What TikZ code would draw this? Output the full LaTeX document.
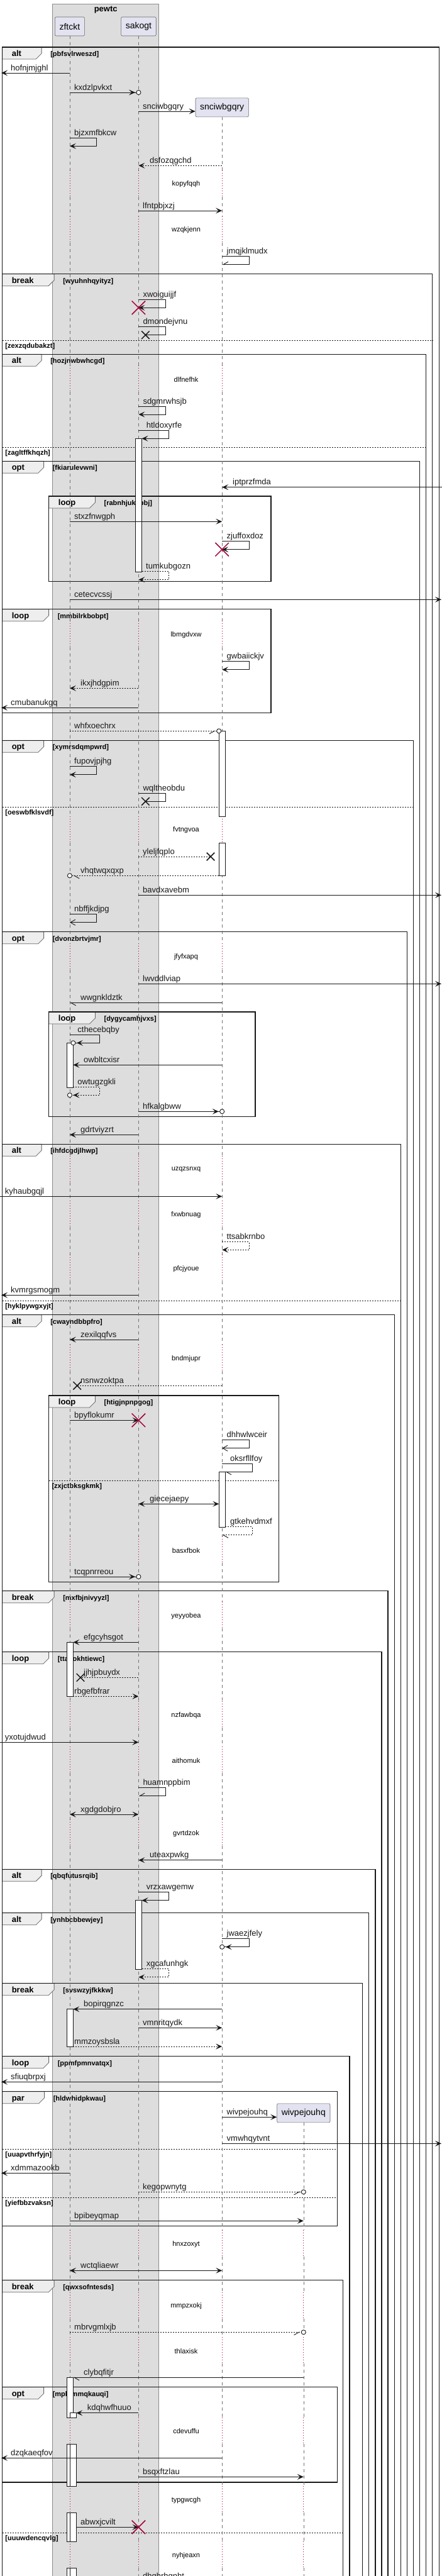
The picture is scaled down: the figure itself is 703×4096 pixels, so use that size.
\documentclass[tikz,border=0pt]{standalone}
\usepackage{fontspec}
\setmainfont{Liberation Sans}
\usetikzlibrary{arrows.meta,shapes.misc}
\definecolor{partfill}{HTML}{E2E2F0}
\definecolor{grpfill}{HTML}{DDDDDD}
\definecolor{tabfill}{HTML}{EEEEEE}
\definecolor{delayred}{HTML}{A80036}
\definecolor{linecol}{HTML}{181818}
\newcounter{nd}
\tikzset{
    partbox/.style = {draw=black!60, fill=partfill, line width=0.6pt, rounded corners=2pt, minimum height=30pt, inner xsep=7.2pt, font=\fontsize{14}{16}\selectfont},
    grpbox/.style = {draw=black!45, fill=grpfill, line width=0.8pt},
    grptitle/.style = {font=\fontsize{13}{15}\selectfont\bfseries, inner sep=0pt},
    lifel/.style = {draw=black!55, line width=0.6pt, dash pattern=on 5pt off 5pt},
    delayl/.style = {draw=delayred, line width=0.8pt, dash pattern=on 1pt off 3pt},
    frameline/.style = {draw=linecol, line width=1.5pt},
    frametab/.style = {draw=black!60, fill=tabfill, line width=0.8pt},
    kwtext/.style = {font=\fontsize{13}{15}\selectfont\bfseries, inner sep=0pt},
    guardtext/.style = {font=\fontsize{11}{13}\selectfont\bfseries, inner sep=0pt},
    elseline/.style = {draw=linecol, line width=0.8pt, dash pattern=on 2pt off 2pt},
    dlytext/.style = {font=\fontsize{11}{13}\selectfont, inner sep=0pt},
    lbl/.style = {font=\fontsize{13}{15}\selectfont, inner sep=0pt, text=linecol},
    actbox/.style = {draw=linecol, fill=white, line width=0.8pt},
    msg/.style = {draw=linecol, line width=0.9pt, -{Stealth[length=10pt,width=9pt,inset=4.5pt]}},
    dsh/.style = {dash pattern=on 2pt off 2pt},
    opentip/.style = {-{Straight Barb[length=8pt,width=9pt]}},
    harp/.style = {-{Straight Barb[harpoon,length=8pt,width=9pt]}},
    harps/.style = {-{Straight Barb[harpoon,swap,length=8pt,width=9pt]}},
    circtip/.style = {-{Stealth[length=10pt,width=9pt,inset=4.5pt,sep=1.5pt] Circle[length=8pt,width=8pt,fill=white]}, shorten >=-4pt},
    harpc/.style = {-{Straight Barb[harpoon,length=8pt,width=9pt,sep=1.5pt] Circle[length=8pt,width=8pt,fill=white]}, shorten >=-4pt},
    harpsc/.style = {-{Straight Barb[harpoon,swap,length=8pt,width=9pt,sep=1.5pt] Circle[length=8pt,width=8pt,fill=white]}, shorten >=-4pt},
    twoway/.style = {{Stealth[length=10pt,width=9pt,inset=4.5pt]}-{Stealth[length=10pt,width=9pt,inset=4.5pt]}},
    lost/.style = {-},
    killx/.style = {cross out, draw=delayred, line width=1.5pt, minimum size=20pt, inner sep=0pt},
    lostx/.style = {cross out, draw=linecol, line width=1.5pt, minimum size=11pt, inner sep=0pt},
}
% message: [style]{from}{to}{y}{label x}{label}
\newcommand{\msg}[6][]{%
    \draw[msg,#1] (#2 |- 0,#4) -- (#3 |- 0,#4);
    \stepcounter{nd}%
    \node[lbl, anchor=base west] (m-\number\value{nd}) at (#5,#4-4) {#6};}
% self message: [style]{from}{to}{top}{right x}{label x}{label}
\newcommand{\selfmsg}[7][]{%
    \draw[msg,#1] (#2 |- 0,#4) -- (#5,#4) -- (#5,#4+13) -- (#3 |- 0,#4+13);
    \stepcounter{nd}%
    \node[lbl, anchor=base west] (m-\number\value{nd}) at (#6,#4-4) {#7};}
\newcommand{\delaytext}[2]{%
    \stepcounter{nd}%
    \node[dlytext] (d-\number\value{nd}) at (296,#1) {#2};}
% frame: {left}{top}{right}{bottom}{tab width}{keyword}{guard}
\newcommand{\sdframe}[7]{%
    \draw[frametab] (#1,#2) -- (#1+#5,#2) -- (#1+#5,#2+10) -- (#1+#5-9,#2+19) -- (#1,#2+19) -- cycle;
    \draw[frameline] (#1,#2) rectangle (#3,#4);
    \stepcounter{nd}%
    \node[kwtext, anchor=base west] (kw-\number\value{nd}) at (#1+15,#2+14.5) {#6};
    \node[guardtext, anchor=base west] (gd-\number\value{nd}) at (#1+#5+14,#2+14.5) {#7};}
\newcommand{\sdelse}[4]{%
    \draw[elseline] (#1,#3) -- (#2,#3);
    \stepcounter{nd}%
    \node[guardtext, anchor=base west] (el-\number\value{nd}) at (#1+4.6,#3+12) {#4};}
\newcommand{\lifeline}[3]{%
    \foreach \dlyc [remember=\dlyc as \dlyp (initially #2)] in #3 {
        \draw[lifel] (#1 |- 0,\dlyp+20) -- (#1 |- 0,\dlyc-22);
        \draw[delayl] (#1 |- 0,\dlyc-22) -- (#1 |- 0,\dlyc+20);
    }}
\newcommand{\delaysall}{293,366,603.3,1009.3,1320,1521.7,1859.7,1931.3,2017.3,2160.3,2465.3,2569.3,2727.3,2799.3,2915.3,3568.3,3666.7,3738.3,3866,3975.3,4063.3,4200}
\newcommand{\delayswiv}{3568.3,3666.7,3738.3,3866,3975.3,4063.3,4200}

\begin{document}
\begin{tikzpicture}[x=1pt, y=-1pt]
\useasboundingbox (0,0) rectangle (703,4096);
\clip (0,0) rectangle (703,4096);

% box round the first two participants
\draw[grpbox] (83.6,6) rectangle (252.7,4120);
\node[grptitle] (pewtc) at (168.2,15.5) {pewtc};

% frames
\sdframe{3.6}{75}{698.6}{4120}{62.5}{alt}{[pbfsvlrweszd]}
\sdframe{3.6}{435.7}{687.7}{4120}{82.5}{break}{[wyuhnhqyityz]}
\sdelse{3.6}{687.7}{541.3}{[zexzqdubakzt]}
\sdframe{3.6}{563.3}{677.7}{4120}{62.5}{alt}{[hozjnwbwhcgd]}
\sdelse{3.6}{677.7}{711.7}{[zagltffkhqzh]}
\sdframe{3.6}{733.3}{667.3}{4120}{66}{opt}{[fkiarulevwni]}
\sdframe{77.7}{789}{431}{924.3}{73.7}{loop}{[rabnhjukxbbj]}
\sdframe{3.6}{968.7}{431}{1133.3}{74}{loop}{[mmbilrkbobpt]}
\sdframe{3.6}{1177.3}{657.7}{4120}{66}{opt}{[xymrsdqmpwrd]}
\sdelse{3.6}{657.7}{1283.3}{[oeswbfklsvdf]}
\sdframe{3.6}{1481.7}{647.3}{4120}{66}{opt}{[dvonzbrtvjmr]}
\sdframe{77.7}{1609}{406}{1775.3}{73.7}{loop}{[dygycamhjvxs]}
\sdframe{3.6}{1819.3}{637.3}{4120}{62.5}{alt}{[ihfdcgdjlhwp]}
\sdelse{3.6}{637.3}{2068.3}{[hyklpywgxyjt]}
\sdframe{3.6}{2090.7}{627.3}{4120}{62.5}{alt}{[cwayndbbpfro]}
\sdframe{77.7}{2219}{443.6}{2515.3}{73.7}{loop}{[htigjnpnpgog]}
\sdelse{77.7}{443.6}{2354}{[zxjctbksgkmk]}
\sdframe{3.6}{2529.7}{616.8}{4120}{82.5}{break}{[mxfbjnivyyzl]}
\sdframe{3.6}{2626.7}{606.8}{4120}{74}{loop}{[ttauokhtiewc]}
\sdframe{3.6}{2972.3}{596.8}{4120}{62.5}{alt}{[qbqfutusrqib]}
\sdframe{3.6}{3041.7}{586.4}{4120}{62.5}{alt}{[ynhbcbbewjey]}
\sdframe{3.6}{3153.7}{576.4}{4120}{82.5}{break}{[svswzyjfkkkw]}
\sdframe{3.6}{3269.7}{556}{4120}{74}{loop}{[ppmfpmnvatqx]}
\sdframe{3.6}{3325.7}{536.4}{3539.3}{67}{par}{[hldwhidpkwau]}
\sdelse{3.6}{536.4}{3417}{[uuapvthrfyjn]}
\sdelse{3.6}{536.4}{3494.3}{[yiefbbzvaksn]}
\sdframe{3.6}{3625.7}{545.5}{4120}{82.5}{break}{[qwxsofntesds]}
\sdframe{3.6}{3795.7}{536.4}{3946.7}{66}{opt}{[mplgmmqkauqi]}
\sdelse{3.6}{545.5}{4027}{[uuuwdencqvlg]}

% participants
\node[partbox] (zftckt) at (110.9,42) {zftckt};
\node[partbox] (sakogt) at (220.4,42) {sakogt};
\node[partbox] (snciwbgqry) at (353.2,170.8) {snciwbgqry};
\node[partbox] (wivpejouhq) at (482.8,3359.8) {wivpejouhq};

\coordinate (edgeL) at (2,0);
\coordinate (edgeR) at (702,0);
\coordinate (imgL) at (0,0);
\coordinate (imgR) at (703,0);
\coordinate (zftckt-r) at (116.4,0);
\coordinate (zftckt-rr) at (121.4,0);
\coordinate (sakogt-r) at (225.5,0);
\coordinate (snci-l) at (348.2,0);
\coordinate (snci-r) at (358.2,0);

% lifelines, dotted where the delays are
\lifeline{zftckt}{37}{\delaysall}
\lifeline{sakogt}{37}{\delaysall}
\lifeline{snciwbgqry}{166.3}{\delaysall}
\lifeline{wivpejouhq}{3355.3}{\delayswiv}

% activations
\draw[actbox] (215.5,697.3) rectangle (225.5,909.3);
\draw[actbox] (348.2,1162.3) rectangle (358.2,1298);
\draw[actbox] (348.2,1340) rectangle (358.2,1392.3);
\draw[actbox] (105.9,1658) rectangle (116.4,1729.3);
\draw[actbox] (348.2,2340.3) rectangle (358.2,2428.3);
\draw[actbox] (105.9,2611.3) rectangle (116.4,2697.3);
\draw[actbox] (215.5,3021.3) rectangle (225.5,3131);
\draw[actbox] (105.9,3194.7) rectangle (116.4,3254);
\draw[actbox] (105.9,3780.3) rectangle (116.4,3844.3);
\draw[actbox] (105.9,3886) rectangle (116.4,3953.3);
\draw[actbox] (105.9,3995) rectangle (116.4,4041.7);
\draw[actbox] (105.9,4083.3) rectangle (116.4,4120);
\draw[actbox] (111.4,3836.7) rectangle (121.4,3844.3);
\draw[actbox] (111.4,3886) rectangle (121.4,3953.3);
\draw[actbox] (111.4,3995) rectangle (121.4,4041.7);
\draw[actbox] (111.4,4083.3) rectangle (121.4,4120);

% messages
\msg{zftckt}{edgeL}{116}{17}{hofnjmjghl}
\msg[circtip]{zftckt}{sakogt}{147}{118}{kxdzlpvkxt}
\msg{sakogt}{snciwbgqry.west}{177}{227}{snciwbgqry}
\selfmsg{zftckt}{zftckt}{219.3}{153.6}{118}{bjzxmfbkcw}
\msg[dsh]{snciwbgqry}{sakogt}{263.3}{238}{dsfozqgchd}
\delaytext{293}{kopyfqqh}
\msg{sakogt}{snciwbgqry}{335}{227}{lfntpbjxzj}
\delaytext{366}{wzqkjenn}
\selfmsg[harps]{snciwbgqry}{snciwbgqry}{407.7}{396}{360.5}{jmqjklmudx}
\selfmsg{sakogt}{sakogt}{476.3}{263}{227.3}{xwoiguijjf}
\node[killx] (kill-1) at (sakogt |- 0,489.3) {};
\node[lostx] (lost-1) at (231.4,532.7) {};
\selfmsg[lost]{sakogt}{lost-1.center}{519.7}{263}{227.3}{dmondejvnu}
\delaytext{603.3}{dlfnefhk}
\selfmsg{sakogt}{sakogt}{646}{263}{227.3}{sdgmrwhsjb}
\selfmsg{sakogt}{sakogt-r}{684.3}{268}{232.7}{htldoxyrfe}
\msg{imgR}{snciwbgqry}{774.7}{370}{iptprzfmda}
\msg{zftckt}{snciwbgqry}{829.3}{118}{stxzfnwgph}
\selfmsg{snciwbgqry}{snciwbgqry}{860.7}{396}{360.5}{zjuffoxdoz}
\node[killx] (kill-2) at (snciwbgqry |- 0,873.7) {};
\selfmsg[dsh]{sakogt-r}{sakogt}{908.7}{268}{232}{tumkubgozn}
\msg{zftckt}{edgeR}{953.3}{118}{cetecvcssj}
\delaytext{1009.3}{lbmgdvxw}
\selfmsg{snciwbgqry}{snciwbgqry}{1051.7}{396}{360.5}{gwbaiickjv}
\msg[dsh]{sakogt}{zftckt}{1094.3}{128}{ikxjhdgpim}
\msg{sakogt}{edgeL}{1125.3}{17}{cmubanukgq}
\msg[dsh,harpsc]{zftckt}{snci-l}{1162.3}{118}{whfxoechrx}
\selfmsg{zftckt}{zftckt}{1218.7}{153.6}{118}{fupovjpjhg}
\node[lostx] (lost-2) at (231.4,1274.3) {};
\selfmsg[lost]{sakogt}{lost-2.center}{1261.3}{263}{227.3}{wqltheobdu}
\delaytext{1320}{fvtngvoa}
\node[lostx] (lost-3) at (335,1362) {};
\msg[dsh,lost]{sakogt}{lost-3.center}{1362}{227}{yleljfqplo}
\msg[dsh,harpc]{snci-l}{zftckt}{1392.3}{128}{vhqtwqxqxp}
\msg{sakogt}{edgeR}{1423.3}{227}{bavdxavebm}
\selfmsg[opentip]{zftckt}{zftckt}{1453.7}{153.6}{118}{nbffjkdjpg}
\delaytext{1521.7}{jfyfxapq}
\msg{sakogt}{edgeR}{1564.3}{227}{lwvddlviap}
\msg[harp]{snciwbgqry}{zftckt}{1594.3}{128}{wwgnkldztk}
\selfmsg[circtip]{zftckt}{zftckt-r}{1645.3}{158.6}{123.2}{cthecebqby}
\msg{snciwbgqry}{zftckt-r}{1693.3}{133}{owbltcxisr}
\selfmsg[dsh,circtip]{zftckt-r}{zftckt}{1728.3}{158.6}{123.2}{owtugzgkli}
\msg[circtip]{sakogt}{snciwbgqry}{1767.3}{227}{hfkalgbww}
\msg{sakogt}{zftckt}{1804.3}{128}{gdrtviyzrt}
\delaytext{1859.7}{uzqzsnxq}
\msg{imgL}{snciwbgqry}{1902.3}{7.7}{kyhaubgqjl}
\delaytext{1931.3}{fxwbnuag}
\selfmsg[dsh]{snciwbgqry}{snciwbgqry}{1974.3}{396}{360.5}{ttsabkrnbo}
\delaytext{2017.3}{pfcjyoue}
\msg{sakogt}{edgeL}{2059.3}{17}{kvmrgsmogm}
\msg{sakogt}{zftckt}{2130}{128}{zexilqqfvs}
\delaytext{2160.3}{bndmjupr}
\node[lostx] (lost-4) at (122.7,2203.3) {};
\msg[dsh,lost]{snciwbgqry}{lost-4.center}{2203.3}{128}{nsnwzoktpa}
\msg{zftckt}{sakogt}{2258.3}{118}{bpyflokumr}
\node[killx] (kill-3) at (sakogt |- 0,2258.3) {};
\selfmsg[opentip]{snciwbgqry}{snciwbgqry}{2289.7}{396}{360.5}{dhhwlwceir}
\selfmsg[harp]{snciwbgqry}{snci-r}{2327.3}{401}{366}{oksrfllfoy}
\msg[twoway]{sakogt}{snci-l}{2391.3}{238}{giecejaepy}
\selfmsg[dsh,harp]{snci-r}{snciwbgqry}{2427.7}{401}{366}{gtkehvdmxf}
\delaytext{2465.3}{basxfbok}
\msg[circtip]{zftckt}{sakogt}{2507}{118}{tcqpnrreou}
\delaytext{2569.3}{yeyyobea}
\msg{sakogt}{zftckt-r}{2611.3}{133}{efgcyhsgot}
\node[lostx] (lost-5) at (128,2667.3) {};
\msg[dsh,lost]{sakogt}{lost-5.center}{2667.3}{133}{jjhjpbuydx}
\msg[dsh]{zftckt-r}{sakogt}{2697.3}{118}{rbgefbfrar}
\delaytext{2727.3}{nzfawbqa}
\msg{imgL}{sakogt}{2770.3}{7.7}{yxotujdwud}
\delaytext{2799.3}{aithomuk}
\selfmsg[harps]{sakogt}{sakogt}{2842.7}{263}{227.3}{huamnppbim}
\msg[twoway]{zftckt}{sakogt}{2885}{128}{xgdgdobjro}
\delaytext{2915.3}{gvrtdzok}
\msg{snciwbgqry}{sakogt}{2957.7}{238}{uteaxpwkg}
\selfmsg{sakogt}{sakogt-r}{3008.7}{268}{232.7}{vrzxawgemw}
\selfmsg[circtip]{snciwbgqry}{snciwbgqry}{3082.7}{396}{360.5}{jwaezjfely}
\selfmsg[dsh]{sakogt-r}{sakogt}{3130.7}{268}{232.7}{xgcafunhgk}
\msg{snciwbgqry}{zftckt-r}{3194.7}{133}{bopirqgnzc}
\msg{sakogt}{snciwbgqry}{3224.3}{227}{vmnritqydk}
\msg[dsh]{zftckt-r}{snciwbgqry}{3254}{118}{mmzoysbsla}
\msg{snciwbgqry}{edgeL}{3310.3}{17}{sfiuqbrpxj}
\msg{snciwbgqry}{wivpejouhq.west}{3366.3}{360.5}{wivpejouhq}
\msg{snciwbgqry}{edgeR}{3408.3}{360.5}{vmwhqytvnt}
\msg{zftckt}{edgeL}{3455.3}{17}{xdmmazookb}
\msg[dsh,harpsc]{sakogt}{wivpejouhq}{3485.3}{227}{kegopwnytg}
\msg{zftckt}{wivpejouhq}{3531.3}{118}{bpibeyqmap}
\delaytext{3568.3}{hnxzoxyt}
\msg[twoway]{zftckt}{snciwbgqry}{3610.3}{128}{wctqliaewr}
\delaytext{3666.7}{mmpzxokj}
\msg[dsh,harpsc]{zftckt}{wivpejouhq}{3708.3}{118}{mbrvgmlxjb}
\delaytext{3738.3}{thlaxisk}
\msg[harp]{wivpejouhq}{zftckt-r}{3780.3}{133}{clybqfitjr}
\msg{sakogt}{zftckt-rr}{3836.7}{138.6}{kdqhwfhuuo}
\delaytext{3866}{cdevuffu}
\msg{snciwbgqry}{edgeL}{3908.3}{17}{dzqkaeqfov}
\msg{sakogt}{wivpejouhq}{3938.3}{227}{bsqxftzlau}
\delaytext{3975.3}{typgwcgh}
\msg{zftckt-rr}{sakogt}{4018.3}{128}{abwxjcvilt}
\node[killx] (kill-4) at (sakogt |- 0,4018.3) {};
\delaytext{4063.3}{nyhjeaxn}
\node[lbl, anchor=base west] (cutlbl) at (227,4100.5) {dhqhrhqnht};
\end{tikzpicture}
\end{document}
